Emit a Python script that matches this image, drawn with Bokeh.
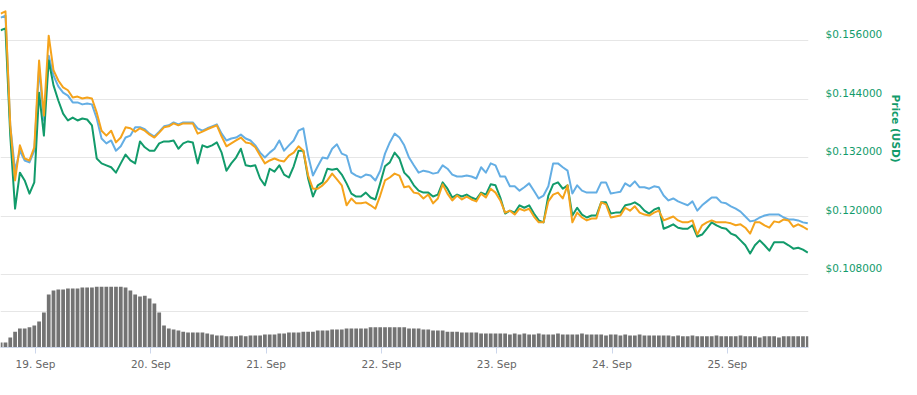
import pandas as pd
from math import pi
from bokeh.plotting import figure
from bokeh.layouts import row
from bokeh.core.properties import value
from bokeh.models import (Range1d, LinearAxis, FixedTicker, Grid, Span,
                          PrintfTickFormatter, DatetimeTickFormatter)
from bokeh.embed import file_html
from bokeh.resources import INLINE

# ---------------- data (hourly samples) ----------------
first_time = "2018-09-18 16:45"
n_points = 169
times = pd.date_range(first_time, periods=n_points, freq="h")

day_ticks = ["2018-09-19", "2018-09-20", "2018-09-21", "2018-09-22",
             "2018-09-23", "2018-09-24", "2018-09-25"]
price_ticks = [0.108, 0.120, 0.132, 0.144, 0.156]
axis_title = "Price (USD)"

# Market cap (blue line, drawn on the price scale)
market_cap_line = [
    0.1607, 0.1611, 0.1386, 0.1293, 0.1334, 0.1314, 0.1310, 0.1334, 0.1503, 0.1396,
    0.1529, 0.1488, 0.1466, 0.1453, 0.1447, 0.1433, 0.1433, 0.1429, 0.1431, 0.1429,
    0.1400, 0.1359, 0.1349, 0.1355, 0.1334, 0.1343, 0.1361, 0.1365, 0.1382, 0.1382,
    0.1378, 0.1369, 0.1363, 0.1373, 0.1384, 0.1386, 0.1392, 0.1388, 0.1392, 0.1392,
    0.1392, 0.1380, 0.1375, 0.1380, 0.1384, 0.1388, 0.1369, 0.1355, 0.1359, 0.1361,
    0.1367, 0.1359, 0.1355, 0.1345, 0.1330, 0.1320, 0.1330, 0.1338, 0.1355, 0.1334,
    0.1345, 0.1355, 0.1375, 0.1380, 0.1324, 0.1283, 0.1302, 0.1320, 0.1318, 0.1338,
    0.1347, 0.1328, 0.1324, 0.1289, 0.1283, 0.1279, 0.1285, 0.1283, 0.1273, 0.1293,
    0.1328, 0.1351, 0.1369, 0.1361, 0.1345, 0.1320, 0.1304, 0.1289, 0.1293, 0.1291,
    0.1287, 0.1289, 0.1304, 0.1297, 0.1285, 0.1281, 0.1281, 0.1283, 0.1281, 0.1277,
    0.1300, 0.1289, 0.1308, 0.1304, 0.1281, 0.1281, 0.1261, 0.1261, 0.1252, 0.1259,
    0.1267, 0.1252, 0.1236, 0.1242, 0.1261, 0.1308, 0.1308, 0.1300, 0.1293, 0.1246,
    0.1263, 0.1252, 0.1248, 0.1248, 0.1248, 0.1269, 0.1269, 0.1246, 0.1248, 0.1250,
    0.1267, 0.1261, 0.1271, 0.1259, 0.1259, 0.1256, 0.1261, 0.1259, 0.1242, 0.1232,
    0.1236, 0.1230, 0.1226, 0.1222, 0.1230, 0.1211, 0.1222, 0.1230, 0.1238, 0.1238,
    0.1228, 0.1226, 0.1220, 0.1215, 0.1209, 0.1199, 0.1189, 0.1191, 0.1197, 0.1201,
    0.1203, 0.1203, 0.1203, 0.1197, 0.1193, 0.1193, 0.1191, 0.1187, 0.1185,
]

# Price (USD) (green line)
price_usd = [
    0.1581, 0.1585, 0.1365, 0.1215, 0.1289, 0.1273, 0.1246, 0.1269, 0.1453, 0.1365,
    0.1519, 0.1468, 0.1437, 0.1410, 0.1396, 0.1402, 0.1396, 0.1400, 0.1398, 0.1386,
    0.1318, 0.1308, 0.1304, 0.1300, 0.1289, 0.1308, 0.1326, 0.1314, 0.1308, 0.1353,
    0.1341, 0.1334, 0.1334, 0.1349, 0.1353, 0.1353, 0.1355, 0.1338, 0.1349, 0.1353,
    0.1351, 0.1308, 0.1345, 0.1341, 0.1345, 0.1351, 0.1330, 0.1293, 0.1308, 0.1320,
    0.1338, 0.1304, 0.1302, 0.1304, 0.1277, 0.1263, 0.1297, 0.1291, 0.1304, 0.1285,
    0.1279, 0.1302, 0.1334, 0.1334, 0.1277, 0.1240, 0.1263, 0.1269, 0.1297, 0.1295,
    0.1297, 0.1285, 0.1267, 0.1246, 0.1240, 0.1240, 0.1248, 0.1238, 0.1234, 0.1267,
    0.1302, 0.1310, 0.1330, 0.1318, 0.1289, 0.1279, 0.1263, 0.1252, 0.1248, 0.1248,
    0.1240, 0.1244, 0.1269, 0.1256, 0.1238, 0.1244, 0.1240, 0.1244, 0.1238, 0.1234,
    0.1248, 0.1244, 0.1265, 0.1263, 0.1238, 0.1205, 0.1211, 0.1207, 0.1222, 0.1217,
    0.1222, 0.1205, 0.1191, 0.1187, 0.1242, 0.1265, 0.1269, 0.1256, 0.1263, 0.1201,
    0.1217, 0.1203, 0.1197, 0.1201, 0.1201, 0.1228, 0.1228, 0.1205, 0.1207, 0.1207,
    0.1222, 0.1224, 0.1228, 0.1222, 0.1211, 0.1205, 0.1213, 0.1217, 0.1174, 0.1178,
    0.1183, 0.1176, 0.1174, 0.1174, 0.1181, 0.1158, 0.1162, 0.1174, 0.1187, 0.1181,
    0.1176, 0.1174, 0.1164, 0.1160, 0.1150, 0.1140, 0.1123, 0.1140, 0.1150, 0.1140,
    0.1129, 0.1146, 0.1146, 0.1146, 0.1140, 0.1133, 0.1135, 0.1131, 0.1125,
]

# Price (BTC) (orange line, drawn on the price scale)
price_btc_line = [
    0.1615, 0.1620, 0.1386, 0.1273, 0.1345, 0.1318, 0.1314, 0.1341, 0.1519, 0.1406,
    0.1570, 0.1499, 0.1478, 0.1464, 0.1458, 0.1443, 0.1445, 0.1441, 0.1443, 0.1441,
    0.1412, 0.1375, 0.1365, 0.1375, 0.1351, 0.1361, 0.1382, 0.1380, 0.1373, 0.1380,
    0.1375, 0.1367, 0.1361, 0.1371, 0.1382, 0.1384, 0.1390, 0.1386, 0.1390, 0.1390,
    0.1390, 0.1369, 0.1373, 0.1378, 0.1382, 0.1386, 0.1363, 0.1343, 0.1349, 0.1355,
    0.1361, 0.1351, 0.1349, 0.1341, 0.1324, 0.1308, 0.1314, 0.1318, 0.1314, 0.1312,
    0.1324, 0.1330, 0.1343, 0.1334, 0.1283, 0.1256, 0.1256, 0.1263, 0.1273, 0.1287,
    0.1275, 0.1263, 0.1222, 0.1236, 0.1226, 0.1226, 0.1228, 0.1222, 0.1215, 0.1242,
    0.1273, 0.1279, 0.1287, 0.1283, 0.1259, 0.1261, 0.1248, 0.1246, 0.1236, 0.1244,
    0.1226, 0.1236, 0.1265, 0.1246, 0.1232, 0.1242, 0.1234, 0.1240, 0.1234, 0.1230,
    0.1246, 0.1238, 0.1256, 0.1248, 0.1232, 0.1207, 0.1211, 0.1203, 0.1215, 0.1211,
    0.1215, 0.1199, 0.1187, 0.1187, 0.1230, 0.1244, 0.1248, 0.1236, 0.1263, 0.1187,
    0.1207, 0.1197, 0.1191, 0.1195, 0.1195, 0.1228, 0.1224, 0.1197, 0.1199, 0.1201,
    0.1217, 0.1211, 0.1220, 0.1207, 0.1203, 0.1201, 0.1207, 0.1211, 0.1191, 0.1195,
    0.1199, 0.1191, 0.1187, 0.1187, 0.1191, 0.1162, 0.1181, 0.1187, 0.1191, 0.1187,
    0.1187, 0.1187, 0.1185, 0.1181, 0.1183, 0.1176, 0.1164, 0.1187, 0.1187, 0.1181,
    0.1176, 0.1189, 0.1187, 0.1193, 0.1191, 0.1178, 0.1183, 0.1178, 0.1172,
]

# 24h volume (grey bars, millions USD)
volume_24h = [
    1.4, 1.4, 2.8, 4.4, 5.3, 5.3, 5.6, 6.1, 7.2, 9.7,
    14.7, 15.8, 16.1, 16.1, 16.4, 16.4, 16.4, 16.7, 16.7, 16.7,
    16.9, 16.9, 16.9, 16.9, 16.9, 16.9, 16.7, 15.8, 14.7, 14.2,
    14.4, 13.6, 12.2, 9.7, 6.1, 5.3, 5.0, 4.7, 4.4, 4.2,
    4.2, 4.2, 4.2, 3.9, 3.6, 3.3, 3.3, 3.1, 3.1, 3.1,
    3.3, 3.1, 3.3, 3.3, 3.3, 3.6, 3.6, 3.6, 3.9, 3.9,
    4.2, 4.2, 4.2, 4.4, 4.4, 4.4, 4.7, 4.7, 4.7, 5.0,
    5.0, 5.0, 5.3, 5.3, 5.3, 5.3, 5.3, 5.6, 5.6, 5.6,
    5.6, 5.6, 5.6, 5.6, 5.6, 5.3, 5.3, 5.3, 5.0, 5.0,
    4.7, 4.7, 4.7, 4.4, 4.4, 4.4, 4.2, 4.2, 4.2, 4.2,
    3.9, 3.9, 3.9, 3.9, 3.9, 3.9, 3.6, 3.9, 3.6, 3.9,
    3.6, 3.6, 3.9, 3.6, 3.6, 3.6, 3.9, 3.6, 3.6, 3.6,
    3.6, 3.9, 3.6, 3.6, 3.6, 3.6, 3.3, 3.6, 3.6, 3.3,
    3.6, 3.3, 3.3, 3.6, 3.3, 3.3, 3.3, 3.3, 3.3, 3.3,
    3.1, 3.3, 3.1, 3.1, 3.3, 3.1, 3.1, 3.1, 3.1, 3.3,
    3.1, 3.1, 3.1, 3.1, 3.3, 3.1, 3.1, 3.1, 2.8, 3.1,
    3.1, 3.1, 2.8, 3.1, 3.1, 3.1, 3.1, 3.1, 3.1,
]

# ---------------- styling ----------------
BLUE = "#64aee4"
GREEN = "#129b6b"
ORANGE = "#f5a31b"
BAR = "#737373"
GRID = "#e6e6e6"
FONT = "DejaVu Sans"

price_lo, price_hi = 0.09303, 0.16257
label_shift = 0.00133
title_y = 0.13795

p = figure(width=885, height=385, x_axis_type="datetime",
           x_range=Range1d(pd.Timestamp("2018-09-18 16:43"), pd.Timestamp("2018-09-25 16:54")),
           y_range=Range1d(price_lo, price_hi),
           y_axis_location=None, output_backend="svg", toolbar_location=None,
           min_border_left=0, min_border_right=77, min_border_top=8, min_border_bottom=38,
           outline_line_color=None, background_fill_color="white")

p.extra_y_ranges = {"vol": Range1d(0, 94.17),
                    "lab": Range1d(price_lo - label_shift, price_hi - label_shift)}

for g in p.xgrid:
    g.visible = False
for g in p.ygrid:
    g.visible = False

p.add_layout(Grid(dimension=1, ticker=FixedTicker(ticks=price_ticks),
                  grid_line_color=GRID, grid_line_width=1))
p.add_layout(Span(location=10, dimension="width", y_range_name="vol",
                  line_color=GRID, line_width=1, level="underlay"))

# volume bars
p.vbar(x=times, top=volume_24h, width=0.78 * 3600 * 1000, y_range_name="vol",
       fill_color=BAR, line_color=None)

# lines
p.line(times, market_cap_line, line_color=BLUE, line_width=2, line_join="round")
p.line(times, price_usd, line_color=GREEN, line_width=2, line_join="round")
p.line(times, price_btc_line, line_color=ORANGE, line_width=2, line_join="round")

# bottom axis
xa = p.xaxis[0]
day_ms = [pd.Timestamp(d).value // 10**6 for d in day_ticks]
xa.ticker = FixedTicker(ticks=day_ms)
fmt = "%d. %b"
xa.formatter = DatetimeTickFormatter(milliseconds=fmt, seconds=fmt, minsec=fmt, minutes=fmt,
                                     hourmin=fmt, hours=fmt, days=fmt, months=fmt, years=fmt)
xa.axis_line_color = "#ccd6eb"
xa.major_tick_line_color = "#ccd6eb"
xa.major_tick_out = 6
xa.major_tick_in = 0
xa.minor_tick_line_color = None
xa.major_label_standoff = 4
xa.major_label_text_color = "#666666"
xa.major_label_text_font = FONT
xa.major_label_text_font_size = "10.5px"

# right price labels
ra = LinearAxis(y_range_name="lab", ticker=FixedTicker(ticks=price_ticks),
                formatter=PrintfTickFormatter(format="$%.6f"),
                axis_line_color=None, major_tick_line_color=None, minor_tick_line_color=None,
                major_tick_out=0, major_tick_in=0, major_label_standoff=17,
                major_label_text_color=GREEN, major_label_text_font=FONT,
                major_label_text_font_size="10.5px")
p.add_layout(ra, "right")

# narrow side strip holding the rotated axis title
side = figure(width=20, height=385, x_range=Range1d(0, 20), y_range=Range1d(price_lo, price_hi),
              x_axis_location=None, y_axis_location=None, output_backend="svg",
              toolbar_location=None, min_border_left=0, min_border_right=0,
              min_border_top=8, min_border_bottom=38, outline_line_color=None)
side.grid.visible = False
side.text(x=[10], y=[title_y], text=[axis_title], angle=-pi / 2,
          text_align="center", text_baseline="middle", text_color=GREEN,
          text_font=value(FONT), text_font_size="10.5px", text_font_style="bold")

layout = row(p, side)
open("out.html", "w").write(file_html(layout, INLINE))
